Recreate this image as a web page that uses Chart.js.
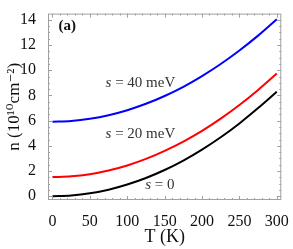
<!DOCTYPE html>
<html>
<head>
<meta charset="utf-8">
<script src="https://cdn.jsdelivr.net/npm/chart.js@4.4.0/dist/chart.umd.min.js"></script>
<style>
  html, body { margin: 0; padding: 0; background: #fff; }
  #wrap { width: 293px; height: 249px; position: relative; }
</style>
</head>
<body>
<div id="wrap"><canvas id="nChart"></canvas></div>
<script>
// values
const temps = [0, 25, 50, 75, 100, 125, 150, 175, 200, 225, 250, 275, 300];
const nS0 = [0, 0.06, 0.23, 0.52, 0.93, 1.45, 2.08, 2.83, 3.70, 4.68, 5.78, 7.00, 8.30];
const nS20 = [1.52, 1.58, 1.75, 2.04, 2.44, 2.96, 3.60, 4.34, 5.19, 6.16, 7.24, 8.44, 9.74];
const nS40 = [5.92, 5.98, 6.15, 6.43, 6.83, 7.34, 7.96, 8.69, 9.54, 10.50, 11.57, 12.75, 14.05];
const xTicks = [0, 50, 100, 150, 200, 250, 300];
const yTicks = [0, 2, 4, 6, 8, 10, 12, 14];

const serif = '"Liberation Serif", "DejaVu Serif", serif';

const pts = (ys) => temps.map((t, i) => ({ x: t, y: ys[i] }));

// frame with inside ticks on all four sides, like the original
const frameTicks = {
  id: 'frameTicks',
  afterDraw(chart) {
    const { ctx, chartArea: a, scales: { x, y } } = chart;
    ctx.save();
    ctx.strokeStyle = '#a0a0a0';
    ctx.lineWidth = 1;
    ctx.strokeRect(a.left + 0.5, a.top + 0.5, a.right - a.left - 1, a.bottom - a.top - 1);
    ctx.beginPath();
    for (let t = 0; t <= 300; t += 10) {
      const px = Math.round(x.getPixelForValue(t)) + 0.5;
      const len = t % 50 === 0 ? 4 : 2;
      ctx.moveTo(px, a.bottom); ctx.lineTo(px, a.bottom - len);
      ctx.moveTo(px, a.top); ctx.lineTo(px, a.top + len);
    }
    for (let v = 0; v <= 14; v += 0.5) {
      const py = Math.round(y.getPixelForValue(v)) + 0.5;
      const len = v % 2 === 0 ? 4 : 2;
      ctx.moveTo(a.left, py); ctx.lineTo(a.left + len, py);
      ctx.moveTo(a.right, py); ctx.lineTo(a.right - len, py);
    }
    ctx.stroke();

    // curve labels
    const label = (rest, t, n) => {
      let px = x.getPixelForValue(t);
      const py = y.getPixelForValue(n);
      ctx.fillStyle = '#333';
      ctx.textBaseline = 'alphabetic';
      ctx.font = 'italic 15px ' + serif;
      ctx.fillText('s', px, py);
      px += ctx.measureText('s').width;
      ctx.font = '15px ' + serif;
      ctx.fillText(rest, px, py);
    };
    label(' = 40 meV', 71, 8.7);
    label(' = 20 meV', 71, 4.6);
    label(' = 0', 124, 0.55);

    ctx.fillStyle = '#111';
    ctx.font = 'bold 15px ' + serif;
    ctx.fillText('(a)', x.getPixelForValue(8), y.getPixelForValue(13.2));
    ctx.restore();
  }
};

new Chart(document.getElementById('nChart'), {
  type: 'line',
  data: {
    datasets: [
      { label: 's = 0', data: pts(nS0), borderColor: '#000000' },
      { label: 's = 20 meV', data: pts(nS20), borderColor: '#ff0000' },
      { label: 's = 40 meV', data: pts(nS40), borderColor: '#0000ff' }
    ]
  },
  options: {
    responsive: true,
    maintainAspectRatio: false,
    animation: false,
    layout: { padding: { top: 5, right: 11, left: 0, bottom: 0 } },
    elements: {
      point: { radius: 0 },
      line: { borderWidth: 2, cubicInterpolationMode: 'monotone' }
    },
    plugins: { legend: { display: false }, tooltip: { enabled: false } },
    scales: {
      x: {
        type: 'linear',
        min: -6, max: 306,
        afterBuildTicks: (s) => { s.ticks = xTicks.map(v => ({ value: v })); },
        afterFit: (s) => { s.height = 49; },
        grid: { display: false },
        border: { display: false },
        ticks: { color: '#111', padding: 4, font: { family: serif, size: 16 } },
        title: { display: true, text: 'T (K)', color: '#111', padding: { top: 5, bottom: 1 }, font: { family: serif, size: 18 } }
      },
      y: {
        min: -0.3, max: 14.5,
        afterBuildTicks: (s) => { s.ticks = yTicks.map(v => ({ value: v })); },
        afterFit: (s) => { s.width = 48; },
        grid: { display: false },
        border: { display: false },
        ticks: { color: '#111', padding: 4, font: { family: serif, size: 16 } },
        title: { display: true, text: 'n (10¹⁰cm⁻²)', color: '#111', padding: { bottom: 0 }, font: { family: serif, size: 17 } }
      }
    }
  },
  plugins: [frameTicks]
});
</script>
</body>
</html>
